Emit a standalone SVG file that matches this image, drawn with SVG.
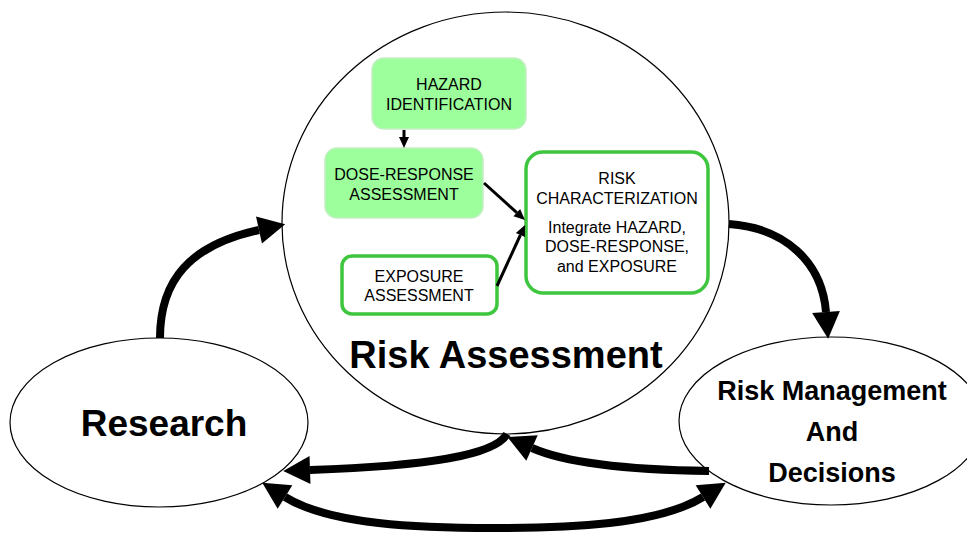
<svg xmlns="http://www.w3.org/2000/svg" width="967" height="533" viewBox="0 0 967 533">
<style>
.oval{fill:#fff;stroke:#000;stroke-width:1.2}
.gbox{fill:#9CFF9C;stroke:#C4EEC4;stroke-width:1.5}
.wbox{fill:#fff;stroke:#3EC63E;stroke-width:3.5}
.t{font-family:"Liberation Sans",Arial,sans-serif;font-size:16px;fill:#000;text-anchor:middle}
.big{font-family:"Liberation Sans",Arial,sans-serif;font-weight:bold;fill:#000;text-anchor:middle}
.thick{fill:none;stroke:#000;stroke-width:8}
.thin{fill:none;stroke:#000;stroke-width:3}
</style>
<defs>
<marker id="ah" markerUnits="userSpaceOnUse" markerWidth="30" markerHeight="30" viewBox="0 -14 26 28" refX="0" refY="0" orient="auto" overflow="visible">
<path d="M0,-13 L25,0 L0,13 z" fill="#000"/>
</marker>
<marker id="ahs" markerUnits="userSpaceOnUse" markerWidth="12" markerHeight="12" viewBox="0 -6 12 12" refX="0" refY="0" orient="auto" overflow="visible">
<path d="M0,-5 L11,0 L0,5 z" fill="#000"/>
</marker>
<marker id="ahr" markerUnits="userSpaceOnUse" markerWidth="30" markerHeight="30" viewBox="-26 -14 26 28" refX="0" refY="0" orient="auto" overflow="visible">
<path d="M0,-13 L-25,0 L0,13 z" fill="#000"/>
</marker>
</defs>

<g id="risk-assessment">
<ellipse class="oval" cx="505.5" cy="223" rx="223.5" ry="211"/>
<text class="big" x="506" y="368" font-size="38">Risk Assessment</text>
</g>

<g id="research">
<ellipse class="oval" cx="159" cy="422.5" rx="149" ry="84.5"/>
<text class="big" x="164" y="436" font-size="37">Research</text>
</g>

<g id="risk-management">
<ellipse class="oval" cx="831" cy="421" rx="152" ry="84"/>
<text class="big" x="832" y="400" font-size="27">Risk Management</text>
<text class="big" x="832" y="441" font-size="27">And</text>
<text class="big" x="832" y="482" font-size="27">Decisions</text>
</g>

<g id="hazard-identification">
<rect class="gbox" x="372" y="58" width="154" height="71" rx="12"/>
<text class="t" x="449" y="90">HAZARD</text>
<text class="t" x="449" y="110">IDENTIFICATION</text>
</g>

<g id="dose-response">
<rect class="gbox" x="325" y="148" width="158" height="70" rx="12"/>
<text class="t" x="404" y="180">DOSE-RESPONSE</text>
<text class="t" x="404" y="200">ASSESSMENT</text>
</g>

<g id="exposure">
<rect class="wbox" x="342" y="256" width="155" height="58" rx="10"/>
<text class="t" x="419" y="282">EXPOSURE</text>
<text class="t" x="419" y="301">ASSESSMENT</text>
</g>

<g id="risk-characterization">
<rect class="wbox" x="526" y="152" width="182" height="141" rx="17"/>
<text class="t" x="617" y="184">RISK</text>
<text class="t" x="617" y="204">CHARACTERIZATION</text>
<text class="t" x="617" y="233">Integrate HAZARD,</text>
<text class="t" x="617" y="252">DOSE-RESPONSE,</text>
<text class="t" x="617" y="272">and EXPOSURE</text>
</g>

<g id="connectors">
<path class="thin" d="M404,130 L404,137" marker-end="url(#ahs)"/>
<path class="thin" d="M484,183 L516.8,212.6" marker-end="url(#ahs)"/>
<path class="thin" d="M497,286 L520.4,235" marker-end="url(#ahs)"/>
<path class="thick" d="M160,338 C160,280 190,245 259,230" marker-end="url(#ah)"/>
<path class="thick" d="M729,224 C785,228 822,262 826,312" marker-end="url(#ah)"/>
<path class="thick" d="M507,434 C495,455 430,466 310,470" marker-end="url(#ah)"/>
<path class="thick" d="M709,471 C640,470 570,465 532,448" marker-end="url(#ah)"/>
<path class="thick" d="M285,497 C330,525 420,528 494,528 C568,528 658,525 703,497" marker-start="url(#ahr)" marker-end="url(#ah)"/>
</g>
</svg>
